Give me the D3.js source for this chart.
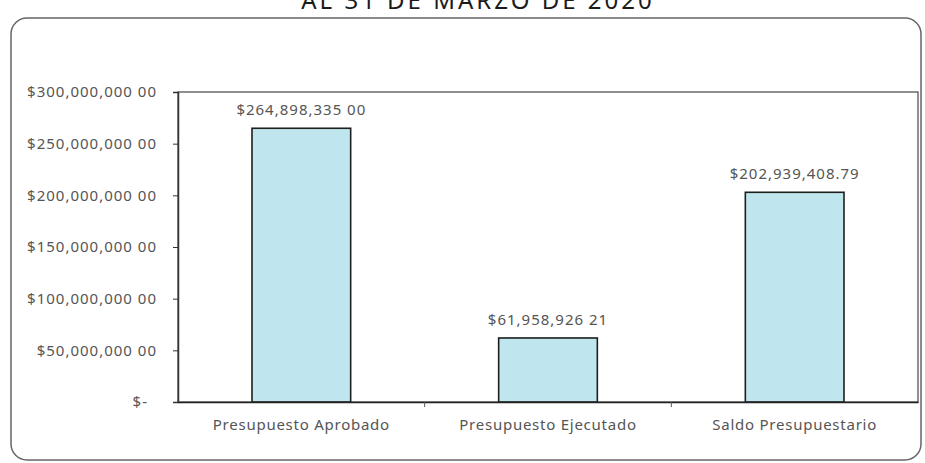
<!DOCTYPE html>
<html>
<head>
    <meta charset="utf-8">
    <title>Presupuesto al 31 de marzo de 2020</title>
    <script src="https://d3js.org/d3.v7.min.js"></script>
    <style>
        body { margin: 0; background: #fff; }
        text { font-family: "Noto Sans", "Open Sans", sans-serif; fill: #555; }
    </style>
</head>
<body>
    <div id="chart"></div>
    <script>
// data
const categories = ['Presupuesto Aprobado', 'Presupuesto Ejecutado', 'Saldo Presupuestario'];
const values = [264898335.00, 61958926.21, 202939408.79];
const valueLabels = ['$264,898,335 00', '$61,958,926 21', '$202,939,408.79'];
const yTicks = [0, 50000000, 100000000, 150000000, 200000000, 250000000, 300000000];
const title = 'AL 31 DE MARZO DE 2020';

const width = 925;
const height = 463;
const margin = { top: 92, right: 7, bottom: 61, left: 178 };

const svg = d3.select('#chart')
    .append('svg')
    .attr('width', width)
    .attr('height', height);

// outer rounded frame
svg.append('rect')
    .attr('x', 11)
    .attr('y', 18)
    .attr('width', 910)
    .attr('height', 442)
    .attr('rx', 16)
    .attr('fill', 'none')
    .attr('stroke', '#666')
    .attr('stroke-width', 1.5);

// title, cut off at the top of the page like in the scan
svg.append('text')
    .attr('x', 478)
    .attr('y', 9)
    .attr('text-anchor', 'middle')
    .attr('font-size', 24)
    .attr('letter-spacing', 3)
    .style('fill', '#1a1a1a')
    .text(title);

const x = d3.scaleBand()
    .domain(categories)
    .range([margin.left, width - margin.right])
    .paddingInner(0.6)
    .paddingOuter(0.3);

const y = d3.scaleLinear()
    .domain([0, 300000000])
    .range([height - margin.bottom, margin.top]);

// plot area border
svg.append('rect')
    .attr('x', margin.left)
    .attr('y', margin.top)
    .attr('width', width - margin.right - margin.left)
    .attr('height', height - margin.bottom - margin.top)
    .attr('fill', 'none')
    .attr('stroke', '#555')
    .attr('stroke-width', 1.3);

const fmt = d => d === 0 ? '$-' : '$' + d3.format(',')(d) + ' 00';

const yAxis = svg.append('g')
    .attr('transform', `translate(${margin.left},0)`)
    .call(d3.axisLeft(y).tickValues(yTicks).tickFormat(fmt).tickSize(5).tickPadding(16));

yAxis.select('.domain').attr('stroke', '#333').attr('stroke-width', 1.5);
yAxis.selectAll('.tick line').attr('stroke', '#333');
yAxis.selectAll('.tick text')
    .attr('font-size', 15)
    .attr('letter-spacing', 1)
    .attr('dx', d => d === 0 ? -9 : 0);

// bars
svg.append('g')
    .selectAll('rect')
    .data(values)
    .enter()
    .append('rect')
    .attr('x', (d, i) => x(categories[i]))
    .attr('y', d => y(d))
    .attr('width', x.bandwidth())
    .attr('height', d => y(0) - y(d))
    .attr('fill', '#bfe6ee')
    .attr('stroke', '#1e1e1e')
    .attr('stroke-width', 1.6);

// x axis
const xAxis = svg.append('g')
    .attr('transform', `translate(0,${y(0)})`)
    .call(d3.axisBottom(x).tickSize(0).tickPadding(17));

xAxis.select('.domain').attr('stroke', '#222').attr('stroke-width', 1.6);
xAxis.selectAll('.tick text').attr('font-size', 15).attr('letter-spacing', 0.75);

// small ticks between categories
const step = x.step();
xAxis.selectAll('.sep')
    .data(d3.range(1, categories.length))
    .enter()
    .append('line')
    .attr('x1', i => margin.left + i * step)
    .attr('x2', i => margin.left + i * step)
    .attr('y1', 0)
    .attr('y2', 5)
    .attr('stroke', '#555');

// value labels
svg.append('g')
    .selectAll('text')
    .data(values)
    .enter()
    .append('text')
    .attr('x', (d, i) => x(categories[i]) + x.bandwidth() / 2)
    .attr('y', d => y(d) - 13)
    .attr('text-anchor', 'middle')
    .attr('font-size', 15)
    .attr('letter-spacing', 1)
    .text((d, i) => valueLabels[i]);
    </script>
</body>
</html>
